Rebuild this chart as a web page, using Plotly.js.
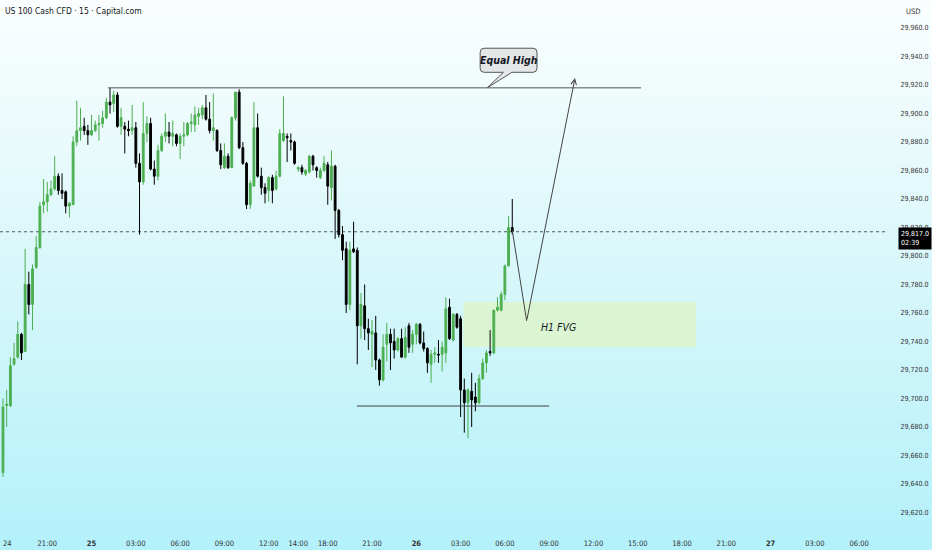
<!DOCTYPE html>
<html>
<head>
<meta charset="utf-8">
<script src="https://cdn.plot.ly/plotly-3.0.1.min.js"></script>
<style>
  html, body { margin: 0; padding: 0; }
  #chart { width: 932px; height: 550px;
    background: linear-gradient(180deg, #fbfefe 0%, #ecfbfc 22%, #d4f6fa 55%, #b3f1fb 100%); }
</style>
</head>
<body>
<div id="chart"></div>
<script>
// ---- data: 15-minute candles ----
const opens = [29648,29695,29695,29724,29729,29745,29733,29780,29766,29792,29806,29836,29838,29843,29847,29856,29846,29845,29835,29836,
29880,29888,29891,29888,29885,29888,29892,29893,29897,29908,29907,29913,29891,29891,29889,29888,29890,29865,29852,29886,
29893,29861,29856,29874,29884,29887,29884,29885,29879,29884,29885,29893,29892,29898,29899,29904,29896,29888,29888,29874,
29862,29870,29862,29897,29915,29876,29865,29836,29849,29890,29856,29848,29846,29855,29847,29856,29881,29884,29881,29880,
29861,29862,29857.5,29859,29870,29862,29855,29860,29864,29848,29863,29832,29815,29805,29766,29805,29804,29751,29765,29749,
29745,29746,29727,29713,29738,29745,29740,29734,29742,29729,29751,29738,29745,29752,29739,29735,29724,29731,29731,29731,
29732,29764,29741,29759,29756,29706,29697,29705,29701,29697,29714,29725,29733,29732,29762,29762,29773,29793,29820];
const highs = [29700,29706,29729,29739,29754,29746,29805,29789,29794,29814,29838,29854,29852,29853,29870,29858,29858,29846,29838,29884,
29909,29904,29897,29892,29899,29895,29899,29902,29911,29918,29916,29915,29904,29894,29895,29906,29894,29872,29908,29898,
29897,29867,29878,29886,29900,29894,29895,29886,29886,29894,29894,29900,29905,29904,29906,29913,29908,29914,29889,29879,
29879,29872,29898,29915,29917,29880,29866,29853,29908,29900,29862,29851,29856,29857,29860,29889,29912,29886,29886,29881,
29863,29864,29861,29871,29871,29863,29862,29870,29866,29874,29864,29833,29821,29810,29810,29824,29806,29774,29780,29756,
29755,29758,29728,29745,29753,29749,29749,29743,29749,29750,29753,29748,29753,29753,29747,29736,29734,29736,29741,29740,
29771,29770,29760,29760,29758,29714,29707,29718,29711,29717,29728,29734,29748,29762,29771,29775,29794,29828,29840];
const lows = [29645,29680,29694,29723,29728,29727,29733,29759,29748,29791,29805,29830,29831,29842,29846,29843,29840,29830,29827,29836,
29877,29881,29885,29878,29884,29887,29881,29890,29896,29900,29901,29890,29885,29872,29884,29885,29862,29815,29850,29880,
29860,29850,29853,29873,29880,29879,29877,29877,29868,29877,29884,29887,29887,29892,29896,29895,29886,29881,29873,29861,
29861,29861,29862,29895,29875,29864,29833,29833,29849,29855,29843,29837,29838,29837,29846,29855,29880,29866,29874,29864,
29859,29857,29856,29858,29860,29855,29854,29859,29836,29839,29812,29813,29797,29760,29762,29802,29724,29742,29741,29734,
29722,29720,29709,29712,29726,29720,29728,29733,29729,29728,29732,29732,29738,29738,29733,29718,29711,29725,29725,29719,
29725,29741,29740,29749,29687,29676,29672,29680,29691,29696,29713,29718,29730,29731,29761,29761,29769,29793,29815];
const closes = [29694,29696,29723,29728,29745,29732,29780,29766,29791,29806,29835,29838,29843,29847,29856,29846,29844,29835,29837,29880,
29888,29890,29888,29885,29888,29892,29893,29897,29908,29906,29913,29891,29897,29889,29888,29890,29865,29852,29886,29893,
29861,29856,29874,29884,29887,29884,29886,29879,29884,29885,29893,29894,29899,29900,29904,29896,29888,29890,29874,29864,
29870,29862,29897,29915,29876,29865,29836,29851,29890,29856,29848,29844,29855,29846,29856,29886,29886,29883,29880,29865,
29862,29859,29860,29870,29864,29860,29860,29865,29849,29863,29832,29815,29804,29766,29804,29803,29751,29766,29749,29746,
29747,29727,29713,29736,29745,29739,29734,29742,29729,29743,29736,29745,29752,29739,29735,29725,29731,29732,29730.5,29736,
29763,29742,29759,29750,29706,29697,29706,29699,29697,29714,29725,29732,29732,29762,29764,29773,29793,29820,29817];

// time-axis ticks (bar index -> label)
const tickBars   = [0,12,24,36,48,60,72,80,88,100,112,124,136,148,160,172,184,196,208,220,232];
const tickLabels = ['24','21:00','<b>25</b>','03:00','06:00','09:00','12:00','14:00','18:00','21:00','<b>26</b>','03:00','06:00','09:00','12:00','15:00','18:00','21:00','<b>27</b>','03:00','06:00'];

// ---- derived ----
const bars = opens.map((_, i) => i);
const last = bars.length - 1;
const lastClose = closes[last];
const equalHigh = Math.max(...highs);
const FONT = 'Liberation Sans Narrow, DejaVu Sans Condensed, Liberation Sans, sans-serif';

const trace = {
  type: 'candlestick',
  x: bars, open: opens, high: highs, low: lows, close: closes,
  increasing: { line: { color: '#4caf50', width: 1 }, fillcolor: '#4caf50' },
  decreasing: { line: { color: '#000000', width: 1 }, fillcolor: '#000000' },
  whiskerwidth: 0,
  hoverinfo: 'none',
  showlegend: false
};

// callout box (Equal High) in data coordinates
const cx0 = 129.3, cx1 = 144.7, cTop = 29945.8, cBot = 29928.9, rx = 1.08, ry = 2.8;
const tipX = 131.2, wL = 135.6, wR = 137.9;
const calloutPath =
  `M ${cx0+rx} ${cTop} L ${cx1-rx} ${cTop} Q ${cx1} ${cTop} ${cx1} ${cTop-ry} ` +
  `L ${cx1} ${cBot+ry} Q ${cx1} ${cBot} ${cx1-rx} ${cBot} ` +
  `L ${wR} ${cBot} L ${tipX} ${equalHigh} L ${wL} ${cBot} ` +
  `L ${cx0+rx} ${cBot} Q ${cx0} ${cBot} ${cx0} ${cBot+ry} ` +
  `L ${cx0} ${cTop-ry} Q ${cx0} ${cTop} ${cx0+rx} ${cTop} Z`;

const fvgLow = 29736.1, fvgHigh = 29767.7;
const sslLevel = 29694.7;
const vX = 141.9, vY = 29754.4, tX = 155.0, tY = 29924.9;

// first time label sits at the very left edge: draw it as an annotation so it is not clipped
const axisTickVals = tickBars.slice(1), axisTickText = tickLabels.slice(1);

const layout = {
  width: 932, height: 550,
  margin: { l: 0, r: 47, t: 0, b: 22 },
  paper_bgcolor: 'rgba(0,0,0,0)',
  plot_bgcolor: 'rgba(0,0,0,0)',
  font: { family: FONT, color: '#131722' },
  showlegend: false,
  dragmode: false,
  xaxis: {
    range: [-0.81, 239.0],
    tickvals: axisTickVals, ticktext: axisTickText,
    showgrid: false, zeroline: false, showline: false,
    ticks: 'outside', ticklen: 8, tickcolor: 'rgba(0,0,0,0)',
    ticklabeloverflow: 'allow',
    tickfont: { size: 7.5, color: '#333', family: FONT },
    rangeslider: { visible: false },
    fixedrange: true
  },
  yaxis: {
    side: 'right',
    range: [29609.1, 29979.65],
    tick0: 29620, dtick: 20,
    tickformat: ',.1f',
    showgrid: false, zeroline: false, showline: false,
    ticks: 'outside', ticklen: 13, tickcolor: 'rgba(0,0,0,0)',
    ticklabeloverflow: 'allow',
    tickfont: { size: 7, color: '#333', family: FONT },
    fixedrange: true
  },
  shapes: [
    { type: 'rect', xref: 'x', yref: 'y', x0: 124.7, x1: 187.8, y0: fvgLow, y1: fvgHigh,
      fillcolor: '#dbf5d2', line: { width: 0 }, layer: 'below' },
    { type: 'line', xref: 'paper', yref: 'y', x0: 0, x1: 1, y0: lastClose, y1: lastClose,
      line: { color: '#555', width: 1, dash: 'dot' }, layer: 'below' },
    { type: 'line', xref: 'x', yref: 'y', x0: 28.45, x1: 172.9, y0: equalHigh, y1: equalHigh,
      line: { color: '#555', width: 1 } },
    { type: 'line', xref: 'x', yref: 'y', x0: 95.9, x1: 148.0, y0: sslLevel, y1: sslLevel,
      line: { color: '#444', width: 1 } },
    { type: 'line', xref: 'x', yref: 'y', x0: last, y0: lastClose + 1, x1: vX, y1: vY,
      line: { color: '#444', width: 1 } },
    { type: 'path', xref: 'x', yref: 'y', path: calloutPath,
      fillcolor: '#e4e6e8', line: { color: '#555', width: 1 } }
  ],
  annotations: [
    { xref: 'x', yref: 'paper', x: tickBars[0], y: 0, xanchor: 'left', yanchor: 'top',
      xshift: -2, yshift: -9, showarrow: false, text: tickLabels[0],
      font: { size: 7.5, color: '#333', family: FONT } },
    { xref: 'paper', yref: 'paper', x: 0, y: 1, xanchor: 'left', yanchor: 'top',
      xshift: 3, yshift: -4, showarrow: false,
      text: 'US 100 Cash CFD · 15 · Capital.com',
      font: { size: 8.5, color: '#131722', family: FONT } },
    { xref: 'paper', yref: 'paper', x: 1, y: 1, xanchor: 'left', yanchor: 'top',
      xshift: 19, yshift: -5, showarrow: false, text: 'USD',
      font: { size: 7.5, color: '#333', family: FONT } },
    { xref: 'paper', yref: 'y', x: 1, y: lastClose, xanchor: 'left', yanchor: 'top',
      xshift: 13, yshift: 5, showarrow: false, align: 'left',
      text: lastClose.toLocaleString('en-US', { minimumFractionDigits: 1 }) + '<br>02:39',
      bgcolor: '#000', borderpad: 2,
      font: { size: 7, color: '#fff', family: FONT } },
    { xref: 'x', yref: 'y', x: (cx0 + cx1) / 2, y: (cTop + cBot) / 2, showarrow: false,
      text: 'Equal High',
      font: { size: 10.5, color: '#131722', family: FONT, style: 'italic', weight: 'bold' } },
    { xref: 'x', yref: 'y', x: 150.4, y: 29750.2, showarrow: false,
      text: 'H1 FVG',
      font: { size: 10.5, color: '#131722', family: FONT, style: 'italic' } },
    { xref: 'x', yref: 'y', x: tX, y: tY, axref: 'x', ayref: 'y', ax: vX, ay: vY,
      text: '', showarrow: true, arrowhead: 5, arrowsize: 1.1, arrowwidth: 1, arrowcolor: '#444' }
  ]
};

Plotly.newPlot('chart', [trace], layout, { staticPlot: true, displayModeBar: false });
</script>
</body>
</html>
